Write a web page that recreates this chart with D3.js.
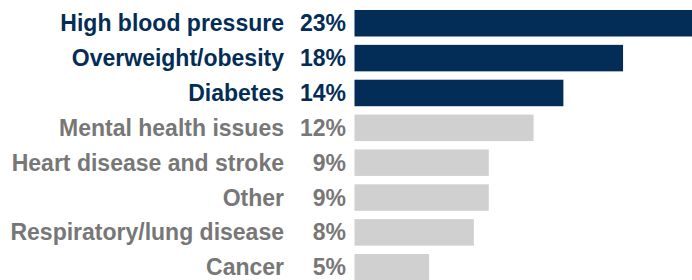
<!DOCTYPE html>
<html>
<head>
<meta charset="utf-8">
<script src="https://cdn.jsdelivr.net/npm/d3@7"></script>
<style>
  html, body { margin: 0; padding: 0; background: #fff; }
  svg { display: block; }
</style>
</head>
<body>
<div id="chart"></div>
<script>
const w = 692, h = 280;

// categories, values, which ones are highlighted
const categories = ['High blood pressure', 'Overweight/obesity', 'Diabetes', 'Mental health issues',
    'Heart disease and stroke', 'Other', 'Respiratory/lung disease', 'Cancer'];
const values = [23, 18, 14, 12, 9, 9, 8, 5];
const highlight = [true, true, true, false, false, false, false, false];

const navy = '#032d57', grey_bar = '#d1d0d1', grey_text = '#777777';

let data = categories.map((d, i) => ({cat: d, val: values[i], hl: highlight[i]}));

let svg = d3.select('#chart').append('svg')
    .attr('width', w)
    .attr('height', h);

let bar_x0 = 354.5;

// 100% would be ~1492 px wide (bars run off the right edge)
let x_scale = d3.scaleLinear().domain([0, 100]).range([bar_x0, bar_x0 + 1492]);

let step = 34.86;
let y_scale = d3.scaleBand()
    .domain(categories)
    .range([10 - 0.12 * step, 10 - 0.12 * step + step * categories.length])
    .paddingInner(0.24)
    .paddingOuter(0.12);

svg.selectAll('.bar')
    .data(data)
    .enter().append('rect')
    .attr('class', 'bar')
    .attr('x', x_scale(0))
    .attr('y', d => y_scale(d.cat))
    .attr('width', d => x_scale(d.val) - x_scale(0))
    .attr('height', y_scale.bandwidth())
    .attr('fill', d => d.hl ? navy : grey_bar);

svg.selectAll('.label')
    .data(data)
    .enter().append('text')
    .attr('class', 'label')
    .attr('x', 284)
    .attr('y', d => y_scale(d.cat) + y_scale.bandwidth() / 2)
    .attr('dy', '0.35em')
    .attr('text-anchor', 'end')
    .style('font-family', 'Arial, "Liberation Sans", sans-serif')
    .style('font-weight', 'bold')
    .style('font-size', '23px')
    .attr('fill', d => d.hl ? navy : grey_text)
    .text(d => d.cat);

svg.selectAll('.pct')
    .data(data)
    .enter().append('text')
    .attr('class', 'pct')
    .attr('x', 346)
    .attr('y', d => y_scale(d.cat) + y_scale.bandwidth() / 2)
    .attr('dy', '0.35em')
    .attr('text-anchor', 'end')
    .style('font-family', 'Arial, "Liberation Sans", sans-serif')
    .style('font-weight', 'bold')
    .style('font-size', '23px')
    .attr('fill', d => d.hl ? navy : grey_text)
    .text(d => d.val + '%');
</script>
</body>
</html>
